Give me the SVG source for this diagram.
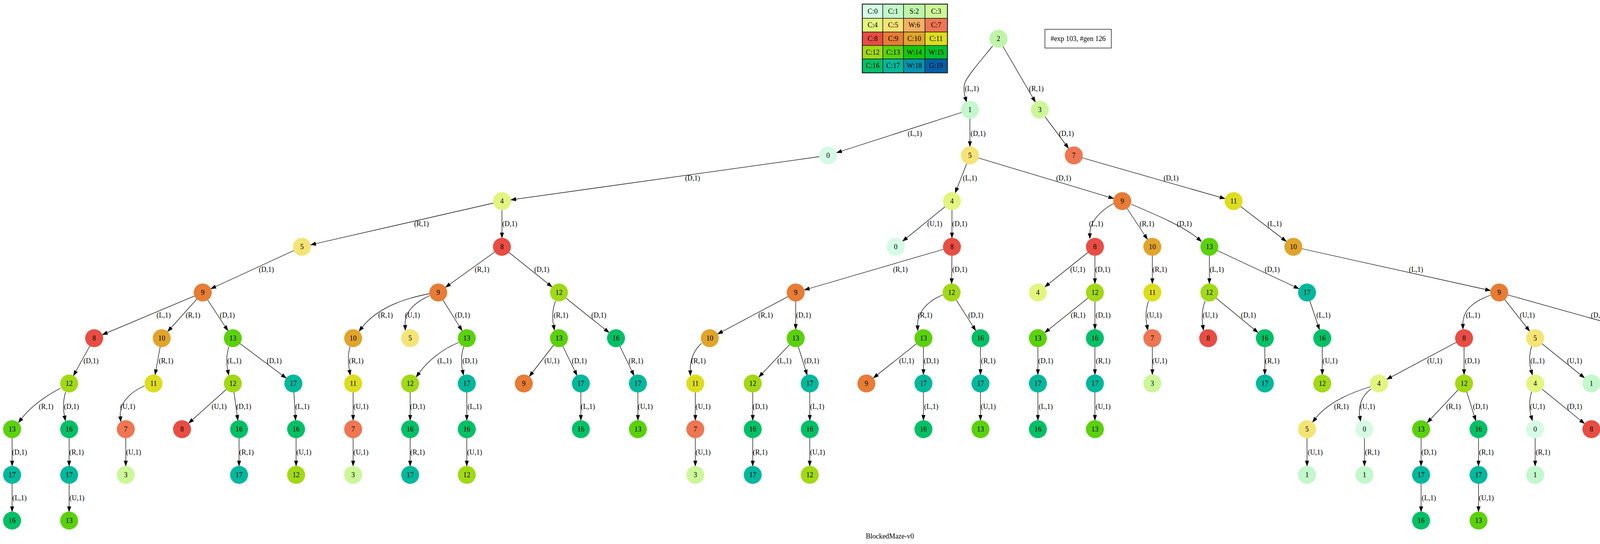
<svg xmlns="http://www.w3.org/2000/svg" width="4556" height="1393" viewBox="0 0 4556 1393">
<style>
.e{fill:none;stroke:#000;stroke-width:1.28;marker-end:url(#a)}
.f{fill:none;stroke:#000;stroke-width:1.28;marker-end:url(#b)}
text{font-family:"Liberation Serif","Times New Roman",serif;font-size:17.9px;text-anchor:middle;fill:#000}
.c0{fill:#d5fbe5}.c1{fill:#c2f8cb}.c2{fill:#bff5a9}.c3{fill:#ccf799}.c4{fill:#e3f57f}.c5{fill:#f5e475}.c6{fill:#f2b163}.c7{fill:#ee7653}.c8{fill:#e84d43}.c9{fill:#e77c35}.c10{fill:#e1a42b}.c11{fill:#dddd1e}.c12{fill:#a1d915}.c13{fill:#5bd10b}.c14{fill:#15c709}.c15{fill:#03c22b}.c16{fill:#00c066}.c17{fill:#00b89c}.c18{fill:#0094ae}.c19{fill:#005fa8}
.lg rect{stroke:#111;stroke-width:1.3}
</style>
<defs>
<marker id="a" markerUnits="userSpaceOnUse" viewBox="-40 -8 42 16" refX="0" refY="0" markerWidth="42" markerHeight="16" orient="auto"><path d="M-35.8,-4.5 L-23,0 L-35.8,4.5 z" fill="#000" stroke="#000" stroke-width="1"/></marker>
<marker id="b" markerUnits="userSpaceOnUse" viewBox="-1 -7 16 14" refX="0" refY="0" markerWidth="16" markerHeight="14" orient="auto"><path d="M0,-4.5 L12.8,0 L0,4.5 z" fill="#000" stroke="#000" stroke-width="1"/></marker>
</defs>
<rect width="4556" height="1393" fill="#fff"/>
<g id="legend" class="lg">
<rect x="2208" y="11" width="52" height="36" class="c0"/><rect x="2260" y="11" width="53" height="36" class="c1"/><rect x="2313" y="11" width="55" height="36" class="c2"/><rect x="2368" y="11" width="57" height="36" class="c3"/>
<rect x="2208" y="47" width="52" height="35" class="c4"/><rect x="2260" y="47" width="53" height="35" class="c5"/><rect x="2313" y="47" width="55" height="35" class="c6"/><rect x="2368" y="47" width="57" height="35" class="c7"/>
<rect x="2208" y="82" width="52" height="34.5" class="c8"/><rect x="2260" y="82" width="53" height="34.5" class="c9"/><rect x="2313" y="82" width="55" height="34.5" class="c10"/><rect x="2368" y="82" width="57" height="34.5" class="c11"/>
<rect x="2208" y="116.5" width="52" height="34.5" class="c12"/><rect x="2260" y="116.5" width="53" height="34.5" class="c13"/><rect x="2313" y="116.5" width="55" height="34.5" class="c14"/><rect x="2368" y="116.5" width="57" height="34.5" class="c15"/>
<rect x="2208" y="151" width="52" height="35" class="c16"/><rect x="2260" y="151" width="53" height="35" class="c17"/><rect x="2313" y="151" width="55" height="35" class="c18"/><rect x="2368" y="151" width="57" height="35" class="c19"/>
<rect x="2207" y="10" width="219" height="177" fill="none" stroke="#333" stroke-width="2.5"/>
<text x="2234" y="35">C:0</text><text x="2286.5" y="35">C:1</text><text x="2340.5" y="35">S:2</text><text x="2396.5" y="35">C:3</text>
<text x="2234" y="70">C:4</text><text x="2286.5" y="70">C:5</text><text x="2340.5" y="70">W:6</text><text x="2396.5" y="70">C:7</text>
<text x="2234" y="105">C:8</text><text x="2286.5" y="105">C:9</text><text x="2340.5" y="105">C:10</text><text x="2396.5" y="105">C:11</text>
<text x="2234" y="139.5">C:12</text><text x="2286.5" y="139.5">C:13</text><text x="2340.5" y="139.5">W:14</text><text x="2396.5" y="139.5">W:15</text>
<text x="2234" y="174">C:16</text><text x="2286.5" y="174">C:17</text><text x="2340.5" y="174">W:18</text><text x="2396.5" y="174">G:19</text>
</g>
<g id="info"><rect x="2675" y="75" width="170" height="48" fill="#fff" stroke="#000" stroke-width="1.28"/><text x="2760" y="104.5">#exp 103, #gen 126</text></g>
<g id="connectors">
<path class="f" d="M2541,118 C2515,150 2480,190 2471,210 C2466,222 2468,238 2471,249"/><text x="2488" y="232.5">(L,1)</text>
<path class="e" d="M2556,99 L2662,281"/><text x="2653" y="232.5">(R,1)</text>
<path class="e" d="M2483,281 L2120,398"/><text x="2342" y="347.5">(L,1)</text>
<path class="e" d="M2483,281 L2483,398"/><text x="2504" y="347.5">(D,1)</text>
<path class="e" d="M2662,281 L2749,398"/><text x="2730" y="347.5">(D,1)</text>
<path class="e" d="M2120,398 L1285,515"/><text x="1773" y="461.5">(D,1)</text>
<path class="e" d="M2483,398 L2437,515"/><text x="2483" y="461.5">(L,1)</text>
<path class="e" d="M2483,398 L2873,515"/><text x="2723" y="461.5">(D,1)</text>
<path class="e" d="M2749,398 L3158,515"/><text x="2998" y="461.5">(D,1)</text>
<path class="e" d="M1285,515 L773,632"/><text x="1079" y="578.5">(R,1)</text>
<path class="e" d="M1285,515 L1285,632"/><text x="1305" y="578.5">(D,1)</text>
<path class="e" d="M2437,515 L2293,632"/><text x="2393" y="578.5">(U,1)</text>
<path class="e" d="M2437,515 L2437,632"/><text x="2457" y="578.5">(D,1)</text>
<path class="f" d="M2851,521 C2815,540 2790,570 2790,598"/><text x="2806" y="578.5">(L,1)</text>
<path class="e" d="M2873,515 L2950,632"/><text x="2936" y="578.5">(R,1)</text>
<path class="f" d="M2896,523 C2960,550 3030,580 3066,610"/><text x="3032" y="578.5">(D,1)</text>
<path class="e" d="M3158,515 L3311,632"/><text x="3263" y="578.5">(L,1)</text>
<path class="e" d="M773,632 L519,749"/><text x="682" y="695.5">(D,1)</text>
<path class="e" d="M1285,632 L1122,749"/><text x="1234" y="695.5">(R,1)</text>
<path class="e" d="M1285,632 L1431,749"/><text x="1387" y="695.5">(D,1)</text>
<path class="e" d="M2437,632 L2037,749"/><text x="2305" y="695.5">(R,1)</text>
<path class="e" d="M2437,632 L2436,749"/><text x="2457" y="695.5">(D,1)</text>
<path class="e" d="M2803,632 L2657,749"/><text x="2759" y="695.5">(U,1)</text>
<path class="e" d="M2803,632 L2803,749"/><text x="2823" y="695.5">(D,1)</text>
<path class="e" d="M2950,632 L2950,749"/><text x="2969" y="695.5">(R,1)</text>
<path class="e" d="M3096,632 L3096,749"/><text x="3115" y="695.5">(L,1)</text>
<path class="e" d="M3096,632 L3346,749"/><text x="3257" y="695.5">(D,1)</text>
<path class="e" d="M3311,632 L3838,749"/><text x="3625" y="695.5">(L,1)</text>
<path class="e" d="M519,749 L241,866"/><text x="419" y="812.5">(L,1)</text>
<path class="e" d="M519,749 L414,866"/><text x="494" y="812.5">(R,1)</text>
<path class="e" d="M519,749 L596,866"/><text x="582" y="812.5">(D,1)</text>
<path class="f" d="M1100,752 C1030,765 965,790 927,838"/><text x="987" y="812.5">(R,1)</text>
<path class="f" d="M1100,757 C1060,775 1035,800 1037,833"/><text x="1056" y="812.5">(U,1)</text>
<path class="e" d="M1122,749 L1195,866"/><text x="1184" y="812.5">(D,1)</text>
<path class="f" d="M1422,771 C1415,790 1413,812 1417,833"/><text x="1436" y="812.5">(R,1)</text>
<path class="e" d="M1431,749 L1577,866"/><text x="1533" y="812.5">(D,1)</text>
<path class="e" d="M2037,749 L1817,866"/><text x="1960" y="812.5">(R,1)</text>
<path class="e" d="M2037,749 L2037,866"/><text x="2057" y="812.5">(D,1)</text>
<path class="f" d="M2414,755 C2375,770 2348,800 2349,834"/><text x="2368" y="812.5">(R,1)</text>
<path class="e" d="M2436,749 L2510,866"/><text x="2498" y="812.5">(D,1)</text>
<path class="e" d="M2803,749 L2657,866"/><text x="2760" y="812.5">(R,1)</text>
<path class="e" d="M2803,749 L2803,866"/><text x="2824" y="812.5">(D,1)</text>
<path class="f" d="M2940,771 C2934,790 2932,812 2936,833"/><text x="2955" y="812.5">(U,1)</text>
<path class="f" d="M3085,771 C3078,790 3076,812 3079,833"/><text x="3098" y="812.5">(U,1)</text>
<path class="e" d="M3096,749 L3238,866"/><text x="3196" y="812.5">(D,1)</text>
<path class="e" d="M3346,749 L3385,866"/><text x="3388" y="812.5">(L,1)</text>
<path class="f" d="M3816,756 C3770,772 3745,795 3745,830"/><text x="3771" y="812.5">(L,1)</text>
<path class="e" d="M3838,749 L3930,866"/><text x="3910" y="812.5">(U,1)</text>
<path class="e" d="M3838,749 L4256,866"/><text x="4092" y="812.5">(D,1)</text>
<path class="e" d="M241,866 L177,982"/><text x="233" y="929.5">(D,1)</text>
<path class="e" d="M414,866 L393,982"/><text x="425" y="929.5">(R,1)</text>
<path class="f" d="M586,888 C580,905 579,928 583,948"/><text x="600" y="929.5">(L,1)</text>
<path class="e" d="M596,866 L751,982"/><text x="702" y="929.5">(D,1)</text>
<path class="f" d="M896,888 C891,905 891,928 894.5,948"/><text x="912" y="929.5">(R,1)</text>
<path class="f" d="M1174,877 C1130,895 1095,925 1073,955"/><text x="1138" y="929.5">(L,1)</text>
<path class="f" d="M1187,888 C1181,905 1180,928 1184,948"/><text x="1203" y="929.5">(D,1)</text>
<path class="e" d="M1431,866 L1341,982"/><text x="1413" y="929.5">(U,1)</text>
<path class="e" d="M1431,866 L1487,982"/><text x="1483" y="929.5">(D,1)</text>
<path class="e" d="M1577,866 L1633,982"/><text x="1628" y="929.5">(R,1)</text>
<path class="f" d="M1796,879 C1778,895 1766,920 1767,949"/><text x="1788" y="929.5">(R,1)</text>
<path class="e" d="M2037,866 L1927,982"/><text x="2008" y="929.5">(L,1)</text>
<path class="e" d="M2037,866 L2073,982"/><text x="2078" y="929.5">(D,1)</text>
<path class="e" d="M2364,866 L2218,982"/><text x="2321" y="929.5">(U,1)</text>
<path class="e" d="M2364,866 L2364,982"/><text x="2384" y="929.5">(D,1)</text>
<path class="e" d="M2510,866 L2510,982"/><text x="2530" y="929.5">(R,1)</text>
<path class="e" d="M2657,866 L2657,982"/><text x="2677" y="929.5">(D,1)</text>
<path class="e" d="M2803,866 L2803,982"/><text x="2824" y="929.5">(R,1)</text>
<path class="e" d="M2950,866 L2950,982"/><text x="2969" y="929.5">(U,1)</text>
<path class="e" d="M3238,866 L3238,982"/><text x="3257" y="929.5">(R,1)</text>
<path class="e" d="M3385,866 L3385,982"/><text x="3405" y="929.5">(U,1)</text>
<path class="e" d="M3748,866 L3530,982"/><text x="3673" y="929.5">(U,1)</text>
<path class="e" d="M3748,866 L3748,982"/><text x="3769" y="929.5">(D,1)</text>
<path class="f" d="M3921,887 C3915,905 3914,928 3919.5,948"/><text x="3936" y="929.5">(L,1)</text>
<path class="e" d="M3930,866 L4074,982"/><text x="4031" y="929.5">(U,1)</text>
<path class="e" d="M4256,866 L4256,982"/><text x="4275" y="929.5">(L,1)</text>
<path class="e" d="M4256,866 L4488,982"/><text x="4406" y="929.5">(D,1)</text>
<path class="f" d="M155,994 C115,1015 80,1040 55,1072"/><text x="118" y="1046.5">(R,1)</text>
<path class="f" d="M168,1004 C162,1022 161,1045 165,1065"/><text x="183" y="1046.5">(D,1)</text>
<path class="f" d="M370,988 C330,1005 305,1035 308,1067"/><text x="327" y="1046.5">(U,1)</text>
<path class="e" d="M596,982 L466,1099"/><text x="561" y="1046.5">(U,1)</text>
<path class="e" d="M596,982 L612,1099"/><text x="624" y="1046.5">(D,1)</text>
<path class="e" d="M751,982 L758,1099"/><text x="774" y="1046.5">(L,1)</text>
<path class="e" d="M904,982 L904,1099"/><text x="924" y="1046.5">(U,1)</text>
<path class="e" d="M1050,982 L1050,1099"/><text x="1069" y="1046.5">(D,1)</text>
<path class="e" d="M1195,982 L1195,1099"/><text x="1215" y="1046.5">(L,1)</text>
<path class="e" d="M1487,982 L1487,1099"/><text x="1505" y="1046.5">(L,1)</text>
<path class="e" d="M1633,982 L1633,1099"/><text x="1652" y="1046.5">(U,1)</text>
<path class="e" d="M1780,982 L1780,1099"/><text x="1800" y="1046.5">(U,1)</text>
<path class="e" d="M1927,982 L1927,1099"/><text x="1946" y="1046.5">(D,1)</text>
<path class="e" d="M2073,982 L2073,1099"/><text x="2092" y="1046.5">(L,1)</text>
<path class="e" d="M2364,982 L2364,1099"/><text x="2384" y="1046.5">(L,1)</text>
<path class="e" d="M2510,982 L2510,1099"/><text x="2530" y="1046.5">(U,1)</text>
<path class="e" d="M2657,982 L2657,1099"/><text x="2677" y="1046.5">(L,1)</text>
<path class="e" d="M2803,982 L2803,1099"/><text x="2824" y="1046.5">(U,1)</text>
<path class="f" d="M3509,990 C3460,1005 3400,1030 3368,1071"/><text x="3434" y="1046.5">(R,1)</text>
<path class="f" d="M3510,996 C3490,1010 3476,1035 3481,1066"/><text x="3501" y="1046.5">(U,1)</text>
<path class="e" d="M3748,982 L3638,1099"/><text x="3721" y="1046.5">(R,1)</text>
<path class="e" d="M3748,982 L3785,1099"/><text x="3790" y="1046.5">(D,1)</text>
<path class="f" d="M3921,1003 C3915,1022 3914,1045 3919.5,1065"/><text x="3936" y="1046.5">(U,1)</text>
<path class="e" d="M3930,982 L4074,1099"/><text x="4031" y="1046.5">(D,1)</text>
<path class="f" d="M4235,994 C4212,1010 4200,1035 4204,1066"/><text x="4223" y="1046.5">(U,1)</text>
<path class="e" d="M4256,982 L4364,1099"/><text x="4336" y="1046.5">(D,1)</text>
<path class="e" d="M4488,982 L4511,1099"/><text x="4520" y="1046.5">(L,1)</text>
<path class="e" d="M31,1099 L31,1216"/><text x="50" y="1163.5">(D,1)</text>
<path class="e" d="M177,1099 L177,1216"/><text x="196" y="1163.5">(R,1)</text>
<path class="e" d="M322,1099 L322,1216"/><text x="342" y="1163.5">(U,1)</text>
<path class="e" d="M612,1099 L612,1216"/><text x="631" y="1163.5">(R,1)</text>
<path class="e" d="M758,1099 L758,1216"/><text x="778" y="1163.5">(U,1)</text>
<path class="e" d="M904,1099 L904,1216"/><text x="924" y="1163.5">(U,1)</text>
<path class="e" d="M1050,1099 L1050,1216"/><text x="1069" y="1163.5">(R,1)</text>
<path class="e" d="M1195,1099 L1195,1216"/><text x="1215" y="1163.5">(U,1)</text>
<path class="e" d="M1780,1099 L1780,1216"/><text x="1800" y="1163.5">(U,1)</text>
<path class="e" d="M1927,1099 L1927,1216"/><text x="1946" y="1163.5">(R,1)</text>
<path class="e" d="M2073,1099 L2073,1216"/><text x="2093" y="1163.5">(U,1)</text>
<path class="e" d="M3346,1099 L3346,1216"/><text x="3367" y="1163.5">(U,1)</text>
<path class="e" d="M3493,1099 L3493,1216"/><text x="3513" y="1163.5">(R,1)</text>
<path class="e" d="M3638,1099 L3638,1216"/><text x="3658" y="1163.5">(D,1)</text>
<path class="e" d="M3785,1099 L3785,1216"/><text x="3805" y="1163.5">(R,1)</text>
<path class="e" d="M3930,1099 L3930,1216"/><text x="3950" y="1163.5">(R,1)</text>
<path class="e" d="M4364,1099 L4364,1216"/><text x="4384" y="1163.5">(R,1)</text>
<path class="e" d="M4511,1099 L4511,1216"/><text x="4530" y="1163.5">(U,1)</text>
<path class="e" d="M31,1216 L31,1333"/><text x="50" y="1280.5">(L,1)</text>
<path class="e" d="M177,1216 L177,1333"/><text x="197" y="1280.5">(U,1)</text>
<path class="e" d="M3638,1216 L3638,1333"/><text x="3658" y="1280.5">(L,1)</text>
<path class="e" d="M3785,1216 L3785,1333"/><text x="3805" y="1280.5">(U,1)</text>
</g>
<g id="nodes">
<g id="n0"><circle cx="2556" cy="99" r="23" class="c2"/><text x="2556" y="104.5">2</text></g>
<g id="n1"><circle cx="2483" cy="281" r="23" class="c1"/><text x="2483" y="286.5">1</text></g>
<g id="n2"><circle cx="2662" cy="281" r="23" class="c3"/><text x="2662" y="286.5">3</text></g>
<g id="n3"><circle cx="2120" cy="398" r="23" class="c0"/><text x="2120" y="403.5">0</text></g>
<g id="n4"><circle cx="2483" cy="398" r="23" class="c5"/><text x="2483" y="403.5">5</text></g>
<g id="n5"><circle cx="2749" cy="398" r="23" class="c7"/><text x="2749" y="403.5">7</text></g>
<g id="n6"><circle cx="1285" cy="515" r="23" class="c4"/><text x="1285" y="520.5">4</text></g>
<g id="n7"><circle cx="2437" cy="515" r="23" class="c4"/><text x="2437" y="520.5">4</text></g>
<g id="n8"><circle cx="2873" cy="515" r="23" class="c9"/><text x="2873" y="520.5">9</text></g>
<g id="n9"><circle cx="3158" cy="515" r="23" class="c11"/><text x="3158" y="520.5">11</text></g>
<g id="n10"><circle cx="773" cy="632" r="23" class="c5"/><text x="773" y="637.5">5</text></g>
<g id="n11"><circle cx="1285" cy="632" r="23" class="c8"/><text x="1285" y="637.5">8</text></g>
<g id="n12"><circle cx="2293" cy="632" r="23" class="c0"/><text x="2293" y="637.5">0</text></g>
<g id="n13"><circle cx="2437" cy="632" r="23" class="c8"/><text x="2437" y="637.5">8</text></g>
<g id="n14"><circle cx="2803" cy="632" r="23" class="c8"/><text x="2803" y="637.5">8</text></g>
<g id="n15"><circle cx="2950" cy="632" r="23" class="c10"/><text x="2950" y="637.5">10</text></g>
<g id="n16"><circle cx="3096" cy="632" r="23" class="c13"/><text x="3096" y="637.5">13</text></g>
<g id="n17"><circle cx="3311" cy="632" r="23" class="c10"/><text x="3311" y="637.5">10</text></g>
<g id="n18"><circle cx="519" cy="749" r="23" class="c9"/><text x="519" y="754.5">9</text></g>
<g id="n19"><circle cx="1122" cy="749" r="23" class="c9"/><text x="1122" y="754.5">9</text></g>
<g id="n20"><circle cx="1431" cy="749" r="23" class="c12"/><text x="1431" y="754.5">12</text></g>
<g id="n21"><circle cx="2037" cy="749" r="23" class="c9"/><text x="2037" y="754.5">9</text></g>
<g id="n22"><circle cx="2436" cy="749" r="23" class="c12"/><text x="2436" y="754.5">12</text></g>
<g id="n23"><circle cx="2657" cy="749" r="23" class="c4"/><text x="2657" y="754.5">4</text></g>
<g id="n24"><circle cx="2803" cy="749" r="23" class="c12"/><text x="2803" y="754.5">12</text></g>
<g id="n25"><circle cx="2950" cy="749" r="23" class="c11"/><text x="2950" y="754.5">11</text></g>
<g id="n26"><circle cx="3096" cy="749" r="23" class="c12"/><text x="3096" y="754.5">12</text></g>
<g id="n27"><circle cx="3346" cy="749" r="23" class="c17"/><text x="3346" y="754.5">17</text></g>
<g id="n28"><circle cx="3838" cy="749" r="23" class="c9"/><text x="3838" y="754.5">9</text></g>
<g id="n29"><circle cx="241" cy="866" r="23" class="c8"/><text x="241" y="871.5">8</text></g>
<g id="n30"><circle cx="414" cy="866" r="23" class="c10"/><text x="414" y="871.5">10</text></g>
<g id="n31"><circle cx="596" cy="866" r="23" class="c13"/><text x="596" y="871.5">13</text></g>
<g id="n32"><circle cx="904" cy="866" r="23" class="c10"/><text x="904" y="871.5">10</text></g>
<g id="n33"><circle cx="1050" cy="866" r="23" class="c5"/><text x="1050" y="871.5">5</text></g>
<g id="n34"><circle cx="1195" cy="866" r="23" class="c13"/><text x="1195" y="871.5">13</text></g>
<g id="n35"><circle cx="1431" cy="866" r="23" class="c13"/><text x="1431" y="871.5">13</text></g>
<g id="n36"><circle cx="1577" cy="866" r="23" class="c16"/><text x="1577" y="871.5">16</text></g>
<g id="n37"><circle cx="1817" cy="866" r="23" class="c10"/><text x="1817" y="871.5">10</text></g>
<g id="n38"><circle cx="2037" cy="866" r="23" class="c13"/><text x="2037" y="871.5">13</text></g>
<g id="n39"><circle cx="2364" cy="866" r="23" class="c13"/><text x="2364" y="871.5">13</text></g>
<g id="n40"><circle cx="2510" cy="866" r="23" class="c16"/><text x="2510" y="871.5">16</text></g>
<g id="n41"><circle cx="2657" cy="866" r="23" class="c13"/><text x="2657" y="871.5">13</text></g>
<g id="n42"><circle cx="2803" cy="866" r="23" class="c16"/><text x="2803" y="871.5">16</text></g>
<g id="n43"><circle cx="2950" cy="866" r="23" class="c7"/><text x="2950" y="871.5">7</text></g>
<g id="n44"><circle cx="3093" cy="866" r="23" class="c8"/><text x="3093" y="871.5">8</text></g>
<g id="n45"><circle cx="3238" cy="866" r="23" class="c16"/><text x="3238" y="871.5">16</text></g>
<g id="n46"><circle cx="3385" cy="866" r="23" class="c16"/><text x="3385" y="871.5">16</text></g>
<g id="n47"><circle cx="3748" cy="866" r="23" class="c8"/><text x="3748" y="871.5">8</text></g>
<g id="n48"><circle cx="3930" cy="866" r="23" class="c5"/><text x="3930" y="871.5">5</text></g>
<g id="n49"><circle cx="4256" cy="866" r="23" class="c13"/><text x="4256" y="871.5">13</text></g>
<g id="n50"><circle cx="177" cy="982" r="23" class="c12"/><text x="177" y="987.5">12</text></g>
<g id="n51"><circle cx="393" cy="982" r="23" class="c11"/><text x="393" y="987.5">11</text></g>
<g id="n52"><circle cx="596" cy="982" r="23" class="c12"/><text x="596" y="987.5">12</text></g>
<g id="n53"><circle cx="751" cy="982" r="23" class="c17"/><text x="751" y="987.5">17</text></g>
<g id="n54"><circle cx="904" cy="982" r="23" class="c11"/><text x="904" y="987.5">11</text></g>
<g id="n55"><circle cx="1050" cy="982" r="23" class="c12"/><text x="1050" y="987.5">12</text></g>
<g id="n56"><circle cx="1195" cy="982" r="23" class="c17"/><text x="1195" y="987.5">17</text></g>
<g id="n57"><circle cx="1341" cy="982" r="23" class="c9"/><text x="1341" y="987.5">9</text></g>
<g id="n58"><circle cx="1487" cy="982" r="23" class="c17"/><text x="1487" y="987.5">17</text></g>
<g id="n59"><circle cx="1633" cy="982" r="23" class="c17"/><text x="1633" y="987.5">17</text></g>
<g id="n60"><circle cx="1780" cy="982" r="23" class="c11"/><text x="1780" y="987.5">11</text></g>
<g id="n61"><circle cx="1927" cy="982" r="23" class="c12"/><text x="1927" y="987.5">12</text></g>
<g id="n62"><circle cx="2073" cy="982" r="23" class="c17"/><text x="2073" y="987.5">17</text></g>
<g id="n63"><circle cx="2218" cy="982" r="23" class="c9"/><text x="2218" y="987.5">9</text></g>
<g id="n64"><circle cx="2364" cy="982" r="23" class="c17"/><text x="2364" y="987.5">17</text></g>
<g id="n65"><circle cx="2510" cy="982" r="23" class="c17"/><text x="2510" y="987.5">17</text></g>
<g id="n66"><circle cx="2657" cy="982" r="23" class="c17"/><text x="2657" y="987.5">17</text></g>
<g id="n67"><circle cx="2803" cy="982" r="23" class="c17"/><text x="2803" y="987.5">17</text></g>
<g id="n68"><circle cx="2950" cy="982" r="23" class="c3"/><text x="2950" y="987.5">3</text></g>
<g id="n69"><circle cx="3238" cy="982" r="23" class="c17"/><text x="3238" y="987.5">17</text></g>
<g id="n70"><circle cx="3385" cy="982" r="23" class="c12"/><text x="3385" y="987.5">12</text></g>
<g id="n71"><circle cx="3530" cy="982" r="23" class="c4"/><text x="3530" y="987.5">4</text></g>
<g id="n72"><circle cx="3748" cy="982" r="23" class="c12"/><text x="3748" y="987.5">12</text></g>
<g id="n73"><circle cx="3930" cy="982" r="23" class="c4"/><text x="3930" y="987.5">4</text></g>
<g id="n74"><circle cx="4074" cy="982" r="23" class="c1"/><text x="4074" y="987.5">1</text></g>
<g id="n75"><circle cx="4256" cy="982" r="23" class="c12"/><text x="4256" y="987.5">12</text></g>
<g id="n76"><circle cx="4488" cy="982" r="23" class="c17"/><text x="4488" y="987.5">17</text></g>
<g id="n77"><circle cx="31" cy="1099" r="23" class="c13"/><text x="31" y="1104.5">13</text></g>
<g id="n78"><circle cx="177" cy="1099" r="23" class="c16"/><text x="177" y="1104.5">16</text></g>
<g id="n79"><circle cx="322" cy="1099" r="23" class="c7"/><text x="322" y="1104.5">7</text></g>
<g id="n80"><circle cx="466" cy="1099" r="23" class="c8"/><text x="466" y="1104.5">8</text></g>
<g id="n81"><circle cx="612" cy="1099" r="23" class="c16"/><text x="612" y="1104.5">16</text></g>
<g id="n82"><circle cx="758" cy="1099" r="23" class="c16"/><text x="758" y="1104.5">16</text></g>
<g id="n83"><circle cx="904" cy="1099" r="23" class="c7"/><text x="904" y="1104.5">7</text></g>
<g id="n84"><circle cx="1050" cy="1099" r="23" class="c16"/><text x="1050" y="1104.5">16</text></g>
<g id="n85"><circle cx="1195" cy="1099" r="23" class="c16"/><text x="1195" y="1104.5">16</text></g>
<g id="n86"><circle cx="1487" cy="1099" r="23" class="c16"/><text x="1487" y="1104.5">16</text></g>
<g id="n87"><circle cx="1633" cy="1099" r="23" class="c13"/><text x="1633" y="1104.5">13</text></g>
<g id="n88"><circle cx="1780" cy="1099" r="23" class="c7"/><text x="1780" y="1104.5">7</text></g>
<g id="n89"><circle cx="1927" cy="1099" r="23" class="c16"/><text x="1927" y="1104.5">16</text></g>
<g id="n90"><circle cx="2073" cy="1099" r="23" class="c16"/><text x="2073" y="1104.5">16</text></g>
<g id="n91"><circle cx="2364" cy="1099" r="23" class="c16"/><text x="2364" y="1104.5">16</text></g>
<g id="n92"><circle cx="2510" cy="1099" r="23" class="c13"/><text x="2510" y="1104.5">13</text></g>
<g id="n93"><circle cx="2657" cy="1099" r="23" class="c16"/><text x="2657" y="1104.5">16</text></g>
<g id="n94"><circle cx="2803" cy="1099" r="23" class="c13"/><text x="2803" y="1104.5">13</text></g>
<g id="n95"><circle cx="3346" cy="1099" r="23" class="c5"/><text x="3346" y="1104.5">5</text></g>
<g id="n96"><circle cx="3493" cy="1099" r="23" class="c0"/><text x="3493" y="1104.5">0</text></g>
<g id="n97"><circle cx="3638" cy="1099" r="23" class="c13"/><text x="3638" y="1104.5">13</text></g>
<g id="n98"><circle cx="3785" cy="1099" r="23" class="c16"/><text x="3785" y="1104.5">16</text></g>
<g id="n99"><circle cx="3930" cy="1099" r="23" class="c0"/><text x="3930" y="1104.5">0</text></g>
<g id="n100"><circle cx="4074" cy="1099" r="23" class="c8"/><text x="4074" y="1104.5">8</text></g>
<g id="n101"><circle cx="4218" cy="1099" r="23" class="c8"/><text x="4218" y="1104.5">8</text></g>
<g id="n102"><circle cx="4364" cy="1099" r="23" class="c16"/><text x="4364" y="1104.5">16</text></g>
<g id="n103"><circle cx="4511" cy="1099" r="23" class="c16"/><text x="4511" y="1104.5">16</text></g>
<g id="n104"><circle cx="31" cy="1216" r="23" class="c17"/><text x="31" y="1221.5">17</text></g>
<g id="n105"><circle cx="177" cy="1216" r="23" class="c17"/><text x="177" y="1221.5">17</text></g>
<g id="n106"><circle cx="322" cy="1216" r="23" class="c3"/><text x="322" y="1221.5">3</text></g>
<g id="n107"><circle cx="612" cy="1216" r="23" class="c17"/><text x="612" y="1221.5">17</text></g>
<g id="n108"><circle cx="758" cy="1216" r="23" class="c12"/><text x="758" y="1221.5">12</text></g>
<g id="n109"><circle cx="904" cy="1216" r="23" class="c3"/><text x="904" y="1221.5">3</text></g>
<g id="n110"><circle cx="1050" cy="1216" r="23" class="c17"/><text x="1050" y="1221.5">17</text></g>
<g id="n111"><circle cx="1195" cy="1216" r="23" class="c12"/><text x="1195" y="1221.5">12</text></g>
<g id="n112"><circle cx="1780" cy="1216" r="23" class="c3"/><text x="1780" y="1221.5">3</text></g>
<g id="n113"><circle cx="1927" cy="1216" r="23" class="c17"/><text x="1927" y="1221.5">17</text></g>
<g id="n114"><circle cx="2073" cy="1216" r="23" class="c12"/><text x="2073" y="1221.5">12</text></g>
<g id="n115"><circle cx="3346" cy="1216" r="23" class="c1"/><text x="3346" y="1221.5">1</text></g>
<g id="n116"><circle cx="3493" cy="1216" r="23" class="c1"/><text x="3493" y="1221.5">1</text></g>
<g id="n117"><circle cx="3638" cy="1216" r="23" class="c17"/><text x="3638" y="1221.5">17</text></g>
<g id="n118"><circle cx="3785" cy="1216" r="23" class="c17"/><text x="3785" y="1221.5">17</text></g>
<g id="n119"><circle cx="3930" cy="1216" r="23" class="c1"/><text x="3930" y="1221.5">1</text></g>
<g id="n120"><circle cx="4364" cy="1216" r="23" class="c17"/><text x="4364" y="1221.5">17</text></g>
<g id="n121"><circle cx="4511" cy="1216" r="23" class="c12"/><text x="4511" y="1221.5">12</text></g>
<g id="n122"><circle cx="31" cy="1333" r="23" class="c16"/><text x="31" y="1338.5">16</text></g>
<g id="n123"><circle cx="177" cy="1333" r="23" class="c13"/><text x="177" y="1338.5">13</text></g>
<g id="n124"><circle cx="3638" cy="1333" r="23" class="c16"/><text x="3638" y="1338.5">16</text></g>
<g id="n125"><circle cx="3785" cy="1333" r="23" class="c13"/><text x="3785" y="1338.5">13</text></g>
</g>
<text id="title" x="2278" y="1378.5">BlockedMaze-v0</text>
</svg>
